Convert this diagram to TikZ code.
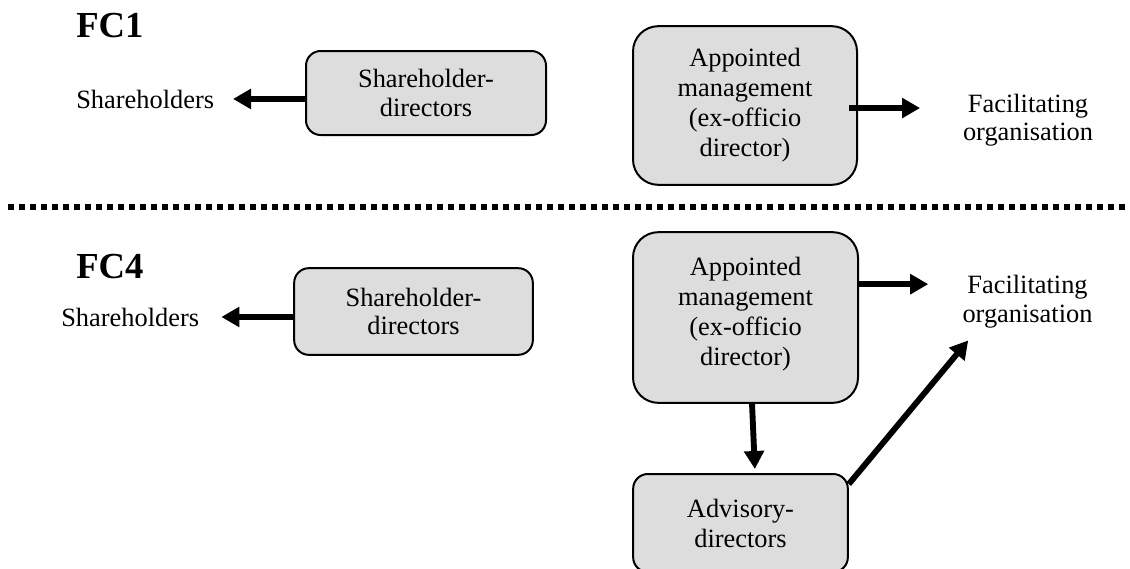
\documentclass[tikz,border=0pt]{standalone}
\usepackage{fontspec}
\setmainfont{Liberation Serif}
\usetikzlibrary{arrows.meta}
\definecolor{boxfill}{RGB}{221,221,221}
\tikzset{
  txt/.style={inner sep=0pt, align=center, font=\fontsize{19.8}{21.5}\selectfont},
  tallbox/.style={txt, draw=black, line width=1.5pt, fill=boxfill, rounded corners=19pt,
    font=\fontsize{19.8}{22.5}\selectfont},
  flatbox/.style={txt, draw=black, line width=1.5pt, fill=boxfill, rounded corners=11pt},
  heading/.style={inner sep=0pt, anchor=base west, font=\fontsize{27.5}{30}\selectfont\bfseries},
  arr/.style={line width=4.4pt, -{Triangle[length=13.5pt,width=14.5pt]}},
  sepline/.style={line width=3.8pt, dash pattern=on 4.5pt off 3.75pt}
}
\begin{document}
\begin{tikzpicture}[x=0.75pt,y=-0.75pt]
\useasboundingbox (0,0) rectangle (1130,568);

% ---- FC1 ----
\node[heading] (fc1) at (76,37) {FC1};
\node[txt, anchor=base west] (sh1) at (76,108) {Shareholders};
\node[flatbox, minimum width=180pt, minimum height=63pt] (sd1) at (426,93)
  {Shareholder-\\directors};
\node[tallbox, minimum width=168pt, minimum height=119pt] (am1) at (745,105.5)
  {Appointed\\management\\(ex-officio\\director)};
\node[txt, font=\fontsize{19.8}{21}\selectfont] (fac1) at (1028,120) {Facilitating\\organisation};

\draw[arr, shorten >=14pt] (sd1.west |- sh1) -- (sh1.east);
\draw[arr, shorten >=32pt] ([xshift=-6.75pt,yshift=-1.9pt]am1.east) -- ([yshift=-1.9pt]am1.east -| fac1.west);

% ---- separator ----
\coordinate (sepL) at (8,207);
\coordinate (sepR) at (1126,207);
\draw[sepline] (sepL) -- (sepR);

% ---- FC4 ----
\node[heading] (fc4) at (76,278) {FC4};
\node[txt, anchor=base west] (sh2) at (61,326) {Shareholders};
\node[flatbox, minimum width=179pt, minimum height=65pt] (sd2) at (413.5,311.5)
  {Shareholder-\\directors};
\node[tallbox, minimum width=168.75pt, minimum height=128pt, text depth=10pt] (am2) at (745.5,317.5)
  {Appointed\\management\\(ex-officio\\director)};
\node[txt, font=\fontsize{19.8}{22}\selectfont] (fac2) at (1027.5,301.5) {Facilitating\\organisation};
\node[flatbox, minimum width=161pt, minimum height=73.5pt, font=\fontsize{19.8}{22.5}\selectfont] (ad) at (740.5,523)
  {Advisory-\\directors};

\draw[arr, shorten >=16.5pt] (sd2.west |- sh2) -- (sh2.east);
\draw[arr, shorten >=25.5pt] ([yshift=25pt]am2.east) -- ([yshift=25pt]am2.east -| fac2.west);
\draw[arr, shorten >=3pt] ([xshift=4.9pt]am2.south) -- ([xshift=10.9pt]ad.north);
\draw[arr] ([yshift=-8.25pt]ad.north east) -- ([xshift=4.5pt,yshift=-9pt]fac2.south west);
\end{tikzpicture}
\end{document}
